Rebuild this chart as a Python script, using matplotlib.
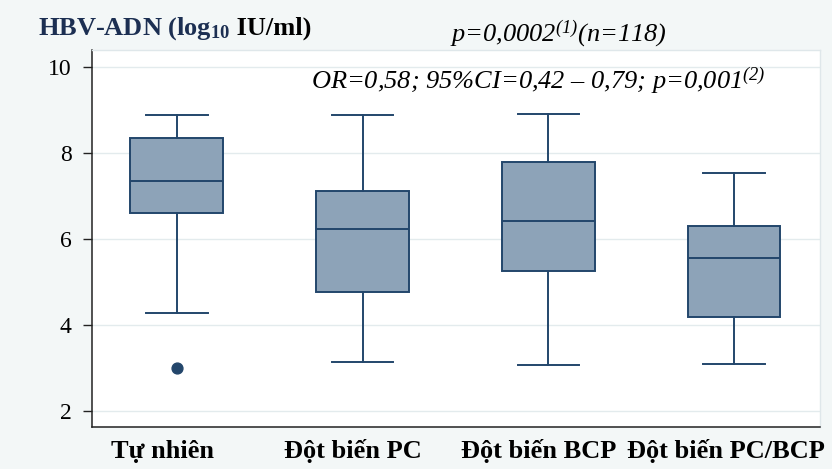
import matplotlib
matplotlib.use("Agg")
import matplotlib.pyplot as plt

# nhóm bệnh nhân và thống kê hộp (log10 IU/ml)
groups = ['Tự nhiên', 'Đột biến PC', 'Đột biến BCP', 'Đột biến PC/BCP']
whisk_hi = [8.89, 8.88, 8.91, 7.53]
q3 = [8.34, 7.12, 7.78, 6.31]
medians = [7.35, 6.23, 6.42, 5.57]
q1 = [6.60, 4.76, 5.25, 4.19]
whisk_lo = [4.29, 3.14, 3.07, 3.09]
outliers = [[3.01], [], [], []]

y_ticks = [2, 4, 6, 8, 10]

plt.rcParams['font.family'] = ['Liberation Serif', 'DejaVu Serif']
plt.rcParams['mathtext.fontset'] = 'custom'
plt.rcParams['mathtext.rm'] = 'Liberation Serif:italic'
plt.rcParams['mathtext.it'] = 'Liberation Serif:italic'
plt.rcParams['mathtext.bf'] = 'Liberation Serif:bold'

EDGE = '#23466b'
FILL = '#8da3b8'
NAVY = '#1c2f52'

stats = []
for i, name in enumerate(groups):
    stats.append({'label': name, 'med': medians[i], 'q1': q1[i], 'q3': q3[i],
                  'whislo': whisk_lo[i], 'whishi': whisk_hi[i], 'fliers': outliers[i]})

fig = plt.figure(figsize=(8.32, 4.69), dpi=100, facecolor='#f3f7f7')
ax = fig.add_axes([0.1102, 0.0889, 0.8754, 0.8045])
ax.set_facecolor('white')

ax.bxp(stats, positions=[1, 2, 3, 4], widths=0.5, capwidths=0.33, patch_artist=True,
       boxprops=dict(facecolor=FILL, edgecolor=EDGE, linewidth=1.4),
       medianprops=dict(color=EDGE, linewidth=1.4),
       whiskerprops=dict(color=EDGE, linewidth=1.4),
       capprops=dict(color=EDGE, linewidth=1.4),
       flierprops=dict(marker='o', markersize=7.8, markerfacecolor=EDGE,
                       markeredgecolor=EDGE))

ax.set_xlim(0.541, 4.463)
ax.set_ylim(1.63, 10.39)
ax.set_yticks(y_ticks)
ax.tick_params(axis='y', length=6.5, width=1, color='#222222', pad=8, labelsize=17)
ax.yaxis.grid(True, color='#e3ebed', linewidth=1)
ax.set_axisbelow(True)

# nhãn nhóm canh theo đường cơ sở
ax.set_xticks([0.925, 1.948, 2.949, 3.957], groups)
ax.tick_params(axis='x', length=0, pad=22, labelsize=19)
for lbl in ax.get_xticklabels():
    lbl.set_fontweight('bold')
    lbl.set_va('baseline')

for side in ['left', 'bottom']:
    ax.spines[side].set_color('#222222')
    ax.spines[side].set_linewidth(1.1)
for side in ['top', 'right']:
    ax.spines[side].set_color('#dfe7ea')
    ax.spines[side].set_linewidth(1)

# tiêu đề trục tung: phần xanh đậm và phần đen
t1 = fig.text(38 / 832, 1 - 35 / 469, r'HBV-ADN (log$_{\mathbf{10}}$', color=NAVY,
              fontsize=19, fontweight='bold', va='baseline', ha='left')
ax.annotate(' IU/ml)', xy=(1, 1 - 35 / 469), xycoords=(t1, 'figure fraction'),
            fontsize=19, fontweight='bold', color='black', va='baseline', ha='left',
            annotation_clip=False)

fig.text(450 / 832, 1 - 42 / 469, r'p=0,0002${}^{(1)}$(n=118)', fontsize=19,
         style='italic', va='baseline', ha='left')
fig.text(311 / 832, 1 - 89 / 469, r'OR=0,58; 95%CI=0,42 – 0,79; p=0,001${}^{(2)}$',
         fontsize=19, style='italic', va='baseline', ha='left')

fig.savefig('out.png', dpi=100, facecolor=fig.get_facecolor())
